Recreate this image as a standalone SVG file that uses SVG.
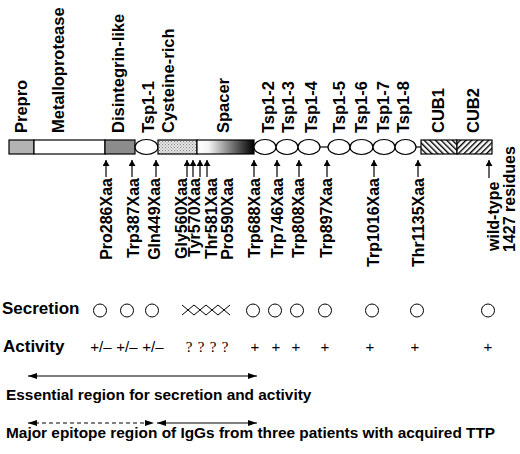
<svg xmlns="http://www.w3.org/2000/svg" width="520" height="454" viewBox="0 0 520 454">
<defs>
<style>
.lb{font-family:"Liberation Sans",Arial,sans-serif;font-weight:bold;font-size:16.5px;fill:#000}
.mt{font-family:"Liberation Sans",Arial,sans-serif;font-weight:bold;font-size:16px;fill:#000}
.hd{font-family:"Liberation Sans",Arial,sans-serif;font-weight:bold;font-size:17px;fill:#000}
.cap{font-family:"Liberation Sans",Arial,sans-serif;font-weight:bold;font-size:15.4px;fill:#000}
.act{font-family:"Liberation Sans",Arial,sans-serif;font-size:15px;fill:#000}
.q{font-family:"Liberation Serif","Times New Roman",serif;font-size:15px;fill:#000}
.box{stroke:#000;stroke-width:1.2}
.tsp{fill:#fff;stroke:#000;stroke-width:1.2}
.ar{stroke:#000;stroke-width:1.2;fill:none}
.sec{fill:none;stroke:#000;stroke-width:1}
</style>
<marker id="up" markerWidth="6" markerHeight="7" refX="6" refY="3.5" orient="auto" markerUnits="userSpaceOnUse">
<path d="M0,0 L6,3.5 L0,7 z" fill="#000"/>
</marker>
<marker id="hh" markerWidth="9" markerHeight="6" refX="9" refY="3" orient="auto-start-reverse" markerUnits="userSpaceOnUse">
<path d="M0,0 L9,3 L0,6 z" fill="#000"/>
</marker>
<linearGradient id="spacerG" x1="0" y1="0" x2="1" y2="0">
<stop offset="0" stop-color="#fff"/>
<stop offset="0.2" stop-color="#f4f4f4"/>
<stop offset="1" stop-color="#000"/>
</linearGradient>
<pattern id="dots" width="3" height="3" patternUnits="userSpaceOnUse">
<rect width="3" height="3" fill="#e2e2e2"/>
<rect x="0" y="0" width="1" height="1" fill="#8a8a8a"/>
<rect x="1.5" y="1.5" width="1" height="1" fill="#9a9a9a"/>
</pattern>
<pattern id="hatchBack" width="4" height="4" patternUnits="userSpaceOnUse" patternTransform="rotate(-45)">
<rect width="4" height="4" fill="#fff"/>
<rect x="0" y="0" width="1.4" height="4" fill="#000"/>
</pattern>
<pattern id="hatchFwd" width="4" height="4" patternUnits="userSpaceOnUse" patternTransform="rotate(45)">
<rect width="4" height="4" fill="#fff"/>
<rect x="0" y="0" width="1.4" height="4" fill="#000"/>
</pattern>
</defs>
<rect width="520" height="454" fill="#fff"/>

<!-- domain bar -->
<g id="prepro"><rect class="box" x="9" y="140" width="25" height="14" fill="#b3b3b3"/>
<text class="lb" transform="translate(27,133) rotate(-90)">Prepro</text></g>
<g id="metalloprotease"><rect class="box" x="34" y="140" width="71" height="14" fill="#fff"/>
<text class="lb" transform="translate(64,133) rotate(-90)">Metalloprotease</text></g>
<g id="disintegrin"><rect class="box" x="105" y="140" width="30" height="14" fill="#8c8c8c"/>
<text class="lb" transform="translate(124,133) rotate(-90)">Disintegrin-like</text></g>
<g id="tsp1-1"><ellipse class="tsp" cx="146.5" cy="147" rx="11.5" ry="7.5"/>
<text class="lb" transform="translate(154,133) rotate(-90)">Tsp1-1</text></g>
<g id="cysteine-rich"><rect class="box" x="158" y="140" width="39" height="14" fill="url(#dots)"/>
<text class="lb" transform="translate(174,133) rotate(-90)">Cysteine-rich</text></g>
<g id="spacer"><rect class="box" x="197" y="140" width="57" height="14" fill="url(#spacerG)"/>
<text class="lb" transform="translate(229,133) rotate(-90)">Spacer</text></g>
<g id="linkers"><line class="ar" x1="320" y1="147" x2="328" y2="147"/><line class="ar" x1="416" y1="147" x2="421" y2="147"/></g>
<g id="tsp1-2"><ellipse class="tsp" cx="265" cy="147" rx="11" ry="7.5"/>
<text class="lb" transform="translate(274,133) rotate(-90)">Tsp1-2</text></g>
<g id="tsp1-3"><ellipse class="tsp" cx="287" cy="147" rx="11" ry="7.5"/>
<text class="lb" transform="translate(294,133) rotate(-90)">Tsp1-3</text></g>
<g id="tsp1-4"><ellipse class="tsp" cx="309" cy="147" rx="11" ry="7.5"/>
<text class="lb" transform="translate(317,133) rotate(-90)">Tsp1-4</text></g>
<g id="tsp1-5"><ellipse class="tsp" cx="339" cy="147" rx="11" ry="7.5"/>
<text class="lb" transform="translate(345,133) rotate(-90)">Tsp1-5</text></g>
<g id="tsp1-6"><ellipse class="tsp" cx="361.5" cy="147" rx="11.5" ry="7.5"/>
<text class="lb" transform="translate(367,133) rotate(-90)">Tsp1-6</text></g>
<g id="tsp1-7"><ellipse class="tsp" cx="384" cy="147" rx="11" ry="7.5"/>
<text class="lb" transform="translate(389,133) rotate(-90)">Tsp1-7</text></g>
<g id="tsp1-8"><ellipse class="tsp" cx="405.5" cy="147" rx="10.5" ry="7.5"/>
<text class="lb" transform="translate(409,133) rotate(-90)">Tsp1-8</text></g>
<g id="cub1"><rect class="box" x="421" y="140" width="36" height="14" fill="url(#hatchBack)"/>
<text class="lb" transform="translate(444,133) rotate(-90)">CUB1</text></g>
<g id="cub2"><rect class="box" x="457" y="140" width="35" height="14" fill="url(#hatchFwd)"/>
<text class="lb" transform="translate(479,133) rotate(-90)">CUB2</text></g>

<!-- mutation arrows -->
<g id="connectors">
<line class="ar" x1="106" y1="177" x2="106" y2="160" marker-end="url(#up)"/>
<line class="ar" x1="132" y1="177" x2="132" y2="160" marker-end="url(#up)"/>
<line class="ar" x1="156" y1="177" x2="156" y2="160" marker-end="url(#up)"/>
<line class="ar" x1="187" y1="177" x2="187" y2="160" marker-end="url(#up)"/>
<line class="ar" x1="193" y1="177" x2="193" y2="160" marker-end="url(#up)"/>
<line class="ar" x1="200" y1="177" x2="200" y2="160" marker-end="url(#up)"/>
<line class="ar" x1="207" y1="177" x2="207" y2="160" marker-end="url(#up)"/>
<line class="ar" x1="254" y1="177" x2="254" y2="160" marker-end="url(#up)"/>
<line class="ar" x1="277" y1="177" x2="277" y2="160" marker-end="url(#up)"/>
<line class="ar" x1="299" y1="177" x2="299" y2="160" marker-end="url(#up)"/>
<line class="ar" x1="327" y1="177" x2="327" y2="160" marker-end="url(#up)"/>
<line class="ar" x1="374" y1="177" x2="374" y2="160" marker-end="url(#up)"/>
<line class="ar" x1="418" y1="177" x2="418" y2="160" marker-end="url(#up)"/>
<line class="ar" x1="489" y1="178" x2="489" y2="160" marker-end="url(#up)"/>
<line class="ar" x1="28" y1="376" x2="257" y2="376" marker-start="url(#hh)" marker-end="url(#hh)"/>
<line class="ar" x1="28" y1="423" x2="154" y2="423" stroke-dasharray="4,3" marker-start="url(#hh)" marker-end="url(#hh)"/>
<line class="ar" x1="157" y1="423" x2="257" y2="423" marker-start="url(#hh)" marker-end="url(#hh)"/>
</g>

<g id="mutations">
<text class="mt" text-anchor="end" transform="translate(112,178) rotate(-90)">Pro286Xaa</text>
<text class="mt" text-anchor="end" transform="translate(138.5,178) rotate(-90)">Trp387Xaa</text>
<text class="mt" text-anchor="end" transform="translate(160,178) rotate(-90)">Gln449Xaa</text>
<text class="mt" text-anchor="end" transform="translate(186.5,178) rotate(-90)">Gly560Xaa</text>
<text class="mt" text-anchor="end" transform="translate(200,178) rotate(-90)">Tyr570Xaa</text>
<text class="mt" text-anchor="end" transform="translate(216.5,178) rotate(-90)">Thr581Xaa</text>
<text class="mt" text-anchor="end" transform="translate(233,178) rotate(-90)">Pro590Xaa</text>
<text class="mt" text-anchor="end" transform="translate(259.5,178) rotate(-90)">Trp688Xaa</text>
<text class="mt" text-anchor="end" transform="translate(283,178) rotate(-90)">Trp746Xaa</text>
<text class="mt" text-anchor="end" transform="translate(304,178) rotate(-90)">Trp808Xaa</text>
<text class="mt" text-anchor="end" transform="translate(332,178) rotate(-90)">Trp897Xaa</text>
<text class="mt" text-anchor="end" transform="translate(379,178) rotate(-90)">Trp1016Xaa</text>
<text class="mt" text-anchor="end" transform="translate(424,178) rotate(-90)">Thr1135Xaa</text>
<text class="mt" transform="translate(498.5,251) rotate(-90)">wild-type</text>
<text class="mt" transform="translate(514.5,252) rotate(-90)">1427 residues</text>
</g>

<!-- secretion -->
<g id="secretion">
<text class="hd" x="2" y="313.5">Secretion</text>
<circle class="sec" cx="100" cy="310.5" r="6.5"/>
<circle class="sec" cx="127" cy="310.5" r="6.5"/>
<circle class="sec" cx="152" cy="310.5" r="6.5"/>
<path class="sec" d="M182,305 L194,315 M182,315 L194,305 M194,305 L206,315 M194,315 L206,305 M206,305 L218,315 M206,315 L218,305 M218,305 L230,315 M218,315 L230,305"/>
<circle class="sec" cx="253" cy="310.5" r="6.5"/>
<circle class="sec" cx="275" cy="310.5" r="6.5"/>
<circle class="sec" cx="297" cy="310.5" r="6.5"/>
<circle class="sec" cx="325" cy="310.5" r="6.5"/>
<circle class="sec" cx="372" cy="310.5" r="6.5"/>
<circle class="sec" cx="417" cy="310.5" r="6.5"/>
<circle class="sec" cx="488" cy="310.5" r="6.5"/>
</g>

<!-- activity -->
<g id="activity">
<text class="hd" x="3" y="352">Activity</text>
<text class="act" x="101" y="352" text-anchor="middle">+/–</text>
<text class="act" x="127" y="352" text-anchor="middle">+/–</text>
<text class="act" x="153" y="352" text-anchor="middle">+/–</text>
<text class="q" x="189" y="352" text-anchor="middle">?</text>
<text class="q" x="201" y="352" text-anchor="middle">?</text>
<text class="q" x="213" y="352" text-anchor="middle">?</text>
<text class="q" x="225" y="352" text-anchor="middle">?</text>
<text class="act" x="255" y="352" text-anchor="middle">+</text>
<text class="act" x="276" y="352" text-anchor="middle">+</text>
<text class="act" x="296" y="352" text-anchor="middle">+</text>
<text class="act" x="325" y="352" text-anchor="middle">+</text>
<text class="act" x="370" y="352" text-anchor="middle">+</text>
<text class="act" x="415" y="352" text-anchor="middle">+</text>
<text class="act" x="488" y="352" text-anchor="middle">+</text>
</g>

<g id="captions">
<text class="cap" x="6" y="400">Essential region for secretion and activity</text>
<text class="cap" x="6" y="438">Major epitope region of IgGs from three patients with acquired TTP</text>
</g>
</svg>
